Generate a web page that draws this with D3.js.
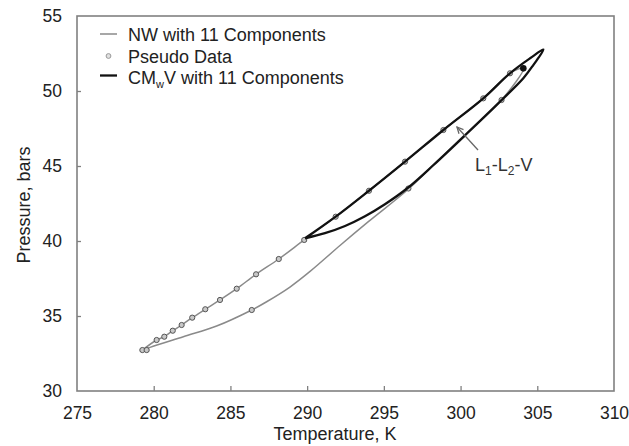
<!DOCTYPE html>
<html><head><meta charset="utf-8">
<script src="https://cdn.jsdelivr.net/npm/d3@7"></script>
<style>
body{margin:0;background:#fff;}
svg{display:block;font-family:"Liberation Sans",Arial,sans-serif;}
</style></head>
<body><svg id="c" width="629" height="446"></svg>
<script>
// ---- data ----
const xTicks = [275, 280, 285, 290, 295, 300, 305, 310];
const yTicks = [30, 35, 40, 45, 50, 55];

// NW with 11 components (gray phase envelope), T [K], P [bar]
const nwT = [279.26, 280.19, 280.69, 281.24, 281.82, 282.51, 283.36, 284.32, 285.41, 286.67, 288.15, 289.81,
             291.86, 294.03, 296.38, 298.88, 301.48, 303.22, 304.09,
             302.67, 300.40, 298.30, 296.59, 293.99, 292.14, 290.19, 288.88, 287.36, 286.39, 284.10, 281.93, 279.76, 279.26];
const nwP = [32.73, 33.40, 33.62, 34.02, 34.40, 34.89, 35.45, 36.07, 36.82, 37.78, 38.80, 40.07,
             41.62, 43.35, 45.29, 47.40, 49.51, 51.18, 51.51,
             49.40, 47.20, 45.15, 43.45, 41.29, 39.70, 37.97, 36.93, 35.95, 35.40, 34.33, 33.62, 32.91, 32.73];

// Pseudo data points
const pseudoT = [279.26, 279.54, 280.19, 280.69, 281.24, 281.82, 282.51, 283.36, 284.32, 285.41, 286.67, 288.15, 289.81,
                 291.86, 294.03, 296.38, 298.88, 301.48, 303.22, 302.67, 296.60, 286.39];
const pseudoP = [32.73, 32.73, 33.40, 33.62, 34.02, 34.40, 34.89, 35.45, 36.07, 36.82, 37.78, 38.80, 40.07,
                 41.62, 43.35, 45.29, 47.40, 49.51, 51.18, 49.40, 43.50, 35.40];

// CMwV with 11 components (black L1-L2-V loop)
const cmT = [289.86, 291.86, 294.03, 296.38, 298.88, 301.48, 303.22, 304.53, 305.40,
             304.74, 304.09, 302.57, 300.40, 298.22, 296.57, 295.07, 293.77, 292.47, 291.16, 289.86];
const cmP = [40.18, 41.62, 43.35, 45.29, 47.40, 49.51, 51.18, 52.18, 52.76,
             51.73, 50.85, 49.29, 47.15, 45.05, 43.55, 42.45, 41.65, 41.00, 40.52, 40.18];

// critical point
const critT = [304.09];
const critP = [51.51];

// ---- chart ----
const svg = d3.select("#c");
const L = 77, R = 614, T = 16, B = 391;
const x = d3.scaleLinear().domain([275, 310]).range([L, R]);
const y = d3.scaleLinear().domain([30, 55]).range([B, T]);
const txt = "#222", axisCol = "#808080";

// axes
const gx = svg.append("g").attr("transform", `translate(0,${B})`)
  .call(d3.axisBottom(x).tickValues(xTicks).tickSize(-5).tickPadding(16).tickFormat(d3.format("d")));
const gy = svg.append("g").attr("transform", `translate(${L},0)`)
  .call(d3.axisLeft(y).tickValues(yTicks).tickSize(-4).tickPadding(15).tickFormat(d3.format("d")));
[gx, gy].forEach(g => {
  g.select(".domain").remove();
  g.selectAll(".tick line").attr("stroke", axisCol).attr("stroke-width", 1.3);
  g.selectAll(".tick text").attr("fill", txt).style("font-size", "17.5px").style("font-family", "Liberation Sans, Arial, sans-serif");
});
gx.selectAll(".tick").filter(d => d === 275 || d === 310).select("line").remove();
gy.selectAll(".tick").filter(d => d === 30 || d === 55).select("line").remove();

// frame
svg.append("rect").attr("x", L).attr("y", T).attr("width", R - L).attr("height", B - T)
  .attr("fill", "none").attr("stroke", axisCol).attr("stroke-width", 1.6);

// axis titles
svg.append("text").attr("x", 335).attr("y", 440).attr("text-anchor", "middle")
  .attr("fill", txt).style("font-size", "18px").text("Temperature, K");
svg.append("text").attr("transform", "translate(30,205) rotate(-90)").attr("text-anchor", "middle")
  .attr("fill", txt).style("font-size", "18px").text("Pressure, bars");

// lines
const line = d3.line().x(d => x(d[0])).y(d => y(d[1])).curve(d3.curveCatmullRom.alpha(0.5));
const nw = nwT.map((t, i) => [t, nwP[i]]);
const cm = cmT.map((t, i) => [t, cmP[i]]);

svg.append("path").datum(nw).attr("d", line).attr("fill", "none")
  .attr("stroke", "#8a8a8a").attr("stroke-width", 1.5);

svg.append("g").selectAll("circle").data(pseudoT.map((t, i) => [t, pseudoP[i]])).join("circle")
  .attr("cx", d => x(d[0])).attr("cy", d => y(d[1])).attr("r", 2.6)
  .attr("fill", "#c8c8c8").attr("stroke", "#555").attr("stroke-width", 1);

svg.append("path").datum(cm).attr("d", line).attr("fill", "none")
  .attr("stroke", "#111").attr("stroke-width", 2.3).attr("stroke-linejoin", "round");

svg.append("g").selectAll("circle").data(critT.map((t, i) => [t, critP[i]])).join("circle")
  .attr("cx", d => x(d[0])).attr("cy", d => y(d[1])).attr("r", 3.3).attr("fill", "#111");

// annotation L1-L2-V
const ax0 = 478, ay0 = 150, ax1 = 457, ay1 = 127;
svg.append("line").attr("x1", ax0).attr("y1", ay0).attr("x2", ax1).attr("y2", ay1)
  .attr("stroke", "#666").attr("stroke-width", 1.3);
const ang = Math.atan2(ay0 - ay1, ax0 - ax1), hl = 7;
svg.append("path").attr("d",
  `M${ax1 + hl * Math.cos(ang - 0.45)},${ay1 + hl * Math.sin(ang - 0.45)} L${ax1},${ay1} L${ax1 + hl * Math.cos(ang + 0.45)},${ay1 + hl * Math.sin(ang + 0.45)}`)
  .attr("fill", "none").attr("stroke", "#666").attr("stroke-width", 1.3);
const lab = svg.append("text").attr("x", 475).attr("y", 171).attr("fill", "#333").style("font-size", "18px");
lab.append("tspan").text("L");
lab.append("tspan").attr("dy", 4).style("font-size", "12px").text("1");
lab.append("tspan").attr("dy", -4).text("-L");
lab.append("tspan").attr("dy", 4).style("font-size", "12px").text("2");
lab.append("tspan").attr("dy", -4).text("-V");

// legend
const lg = svg.append("g");
const lx = 100, lw = 17, tx = 128;
lg.append("line").attr("x1", lx).attr("x2", lx + lw).attr("y1", 34).attr("y2", 34).attr("stroke", "#8a8a8a").attr("stroke-width", 1.5);
lg.append("text").attr("x", tx).attr("y", 41).attr("fill", txt).style("font-size", "18px").text("NW with 11 Components");
lg.append("circle").attr("cx", 108.5).attr("cy", 56).attr("r", 2.4).attr("fill", "#e0e0e0").attr("stroke", "#999").attr("stroke-width", 1);
lg.append("text").attr("x", tx).attr("y", 63).attr("fill", txt).style("font-size", "18px").text("Pseudo Data");
lg.append("line").attr("x1", lx).attr("x2", lx + lw).attr("y1", 75.5).attr("y2", 75.5).attr("stroke", "#111").attr("stroke-width", 2.3);
const t3 = lg.append("text").attr("x", tx).attr("y", 84).attr("fill", txt).style("font-size", "18px");
t3.append("tspan").text("CM");
t3.append("tspan").attr("dy", 4).style("font-size", "11px").text("w");
t3.append("tspan").attr("dy", -4).text("V with 11 Components");
</script></body></html>
